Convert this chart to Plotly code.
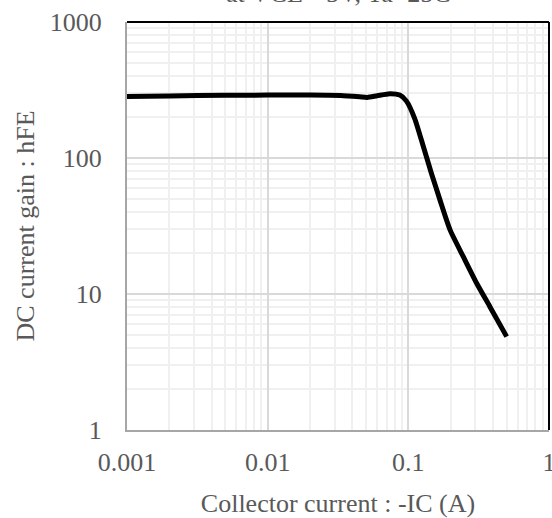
import plotly.graph_objects as go

# Data
ic_a = [0.001, 0.002, 0.005, 0.01, 0.02, 0.033, 0.045, 0.051, 0.06, 0.074, 0.087, 0.097,
        0.111, 0.128, 0.146, 0.168, 0.198, 0.246, 0.306, 0.38, 0.5]
hfe = [283, 286, 289, 290, 290, 288, 282, 279, 287, 297, 290, 262,
       195, 121, 77, 49, 29.6, 18.8, 12.0, 8.07, 4.86]

x_tick_vals = [0.001, 0.01, 0.1, 1]
x_tick_text = ["0.001", "0.01", "0.1", "1"]
y_tick_vals = [1, 10, 100, 1000]
y_tick_text = ["1", "10", "100", "1000"]

title_text = "at VCE=-5V, Ta=25C"
x_title = "Collector current : -IC (A)"
y_title = "DC current gain : hFE"

FONT = "Liberation Serif, Times New Roman, serif"
TXT = "#595959"
FS = 26

fig = go.Figure()
fig.add_trace(go.Scatter(
    x=ic_a, y=hfe, mode="lines",
    line=dict(color="black", width=5, shape="spline", smoothing=0.6),
    showlegend=False, hoverinfo="skip",
))

axis_common = dict(
    type="log", automargin=False, ticklabeloverflow="allow",
    showline=True, linecolor="#a6a6a6", linewidth=2,
    showgrid=True, gridcolor="#d9d9d9", gridwidth=1.5,
    minor=dict(dtick="D1", showgrid=True, gridcolor="#f0f0f0", gridwidth=1.5, ticks=""),
    ticks="", zeroline=False,
    tickfont=dict(family=FONT, size=FS, color=TXT),
    title_font=dict(family=FONT, size=FS, color=TXT),
)

fig.update_xaxes(**axis_common, range=[-3, 0], tickvals=x_tick_vals, ticktext=x_tick_text,
                 title_text=x_title, title_standoff=26, ticklabelstandoff=8)
fig.update_yaxes(**axis_common, range=[0, 3], tickvals=y_tick_vals, ticktext=y_tick_text,
                 title_text=y_title, title_standoff=8, ticklabelstandoff=18)

fig.add_shape(type="line", xref="paper", yref="paper", x0=0, x1=1, y0=1, y1=1,
              line=dict(color="black", width=2))
fig.add_shape(type="line", xref="paper", yref="paper", x0=1, x1=1, y0=0, y1=1,
              line=dict(color="black", width=2))

fig.add_annotation(text=title_text, xref="paper", yref="paper", x=0.5, y=1.03,
                   xanchor="center", yanchor="bottom", showarrow=False,
                   font=dict(family=FONT, size=FS, color=TXT))

fig.update_layout(
    width=552, height=518,
    margin=dict(l=127, r=3, t=22, b=88, autoexpand=False),
    plot_bgcolor="white", paper_bgcolor="white",
)

fig.write_html(
    "out.html",
    config={"displayModeBar": False},
    post_script="document.body.style.margin='0';document.body.style.overflow='hidden';",
)
